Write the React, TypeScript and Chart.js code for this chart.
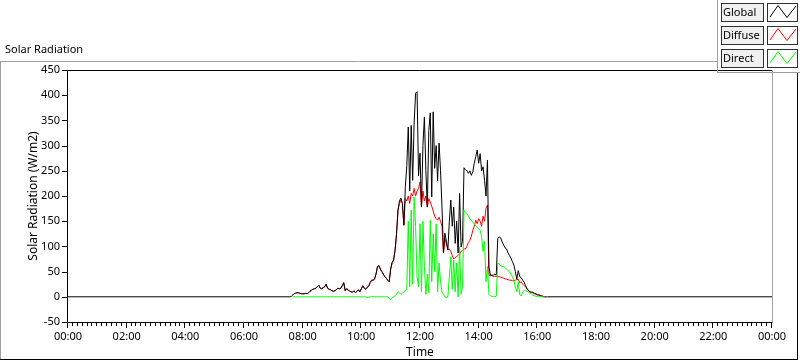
import React, { useEffect, useRef } from 'react';
import { Chart, registerables } from 'chart.js';

Chart.register(...registerables);

// Samples every 3 minutes starting at 07:36
const START_MINUTE = 456;
const STEP_MINUTES = 3;

const globalValues: (number | null)[] = [
  0, 3, 6, 7, 8, 8, 7, 6, 6, 6,
  7, 6, 8, 11, 13, 15, 16, 17, 20, 23,
  17, 16, 18, 20, 25, 17, 15, 14, 12, 11,
  12, 14, 17, 16, 17, 22, 28, 12, 16, 14,
  11, 10, 9, 12, 8, 11, 14, 10, 16, 22,
  17, 15, 19, 21, 28, 33, 33, 35, 45, 60,
  62, 55, 50, 45, 40, 37, 33, 30, 55, 68,
  73, 92, 125, 172, 190, 196, 185, 142, 218, 260,
  337, 210, 340, 231, 345, 404, 407, 240, 285, 178,
  300, 357, 250, 178, 330, 365, 198, 367, 255, 300,
  230, 305, 250, 178, 87, 126, 110, 93, 150, 192,
  140, 178, 106, 150, 87, 205, 99, 110, 256, 252,
  250, 245, 250, 241, 248, 265, 278, 291, 265, 284,
  250, 258, 231, 200, 271, 59, 43, 43, 43, 45,
  43, 115, 119, 117, 109, 103, 97, 95, 87, 82,
  77, 70, 63, 50, 35, 52, 40, 38, 33, 29,
  22, 16, 12, 10, 9, 9, 7, 6, 4, 4,
  3, 2, 1, 0, 0, 0,
];

const diffuseValues: (number | null)[] = [
  null, 3, 6, 7, 8, 8, 7, 6, 6, 6,
  7, 6, 8, 11, 13, 15, 16, 17, 20, 23,
  17, 16, 18, 20, 25, 17, 15, 14, 12, 11,
  12, 14, 17, 16, 17, 22, 28, 12, 16, 14,
  11, 10, 9, 12, 8, 11, 14, 10, 16, 22,
  17, 15, 19, 21, 28, 33, 33, 35, 45, 60,
  62, 55, 50, 45, 40, 37, 33, 30, 55, 68,
  73, 92, 125, 172, 185, 192, 185, 142, 195, 190,
  200, 185, 205, 200, 215, 200, 210, 215, 228, 178,
  210, 190, 200, 178, 195, 188, 180, 170, 160, 155,
  152, 158, 150, 140, 87, 115, 105, 93, 95, 90,
  82, 75, 78, 80, 82, 85, 90, 92, 95, 95,
  100, 108, 112, 120, 132, 140, 152, 145, 155, 150,
  140, 160, 150, 176, 182, 43, 42, 42, 40, 41,
  40, 40, 40, 39, 38, 37, 36, 35, 34, 33,
  33, 32, 32, 33, 34, 35, 28, 30, 25, 22,
  20, 16, 12, 10, 9, 8, 6, 5, 4, 3,
  2, 1, 0, 0, null, null,
];

const directValues: (number | null)[] = [
  null, 0, 0, 0, 0, 0, 0, 0, 0, 0,
  0, 0, 0, 0, 0, 0, 0, 0, 0, 0,
  0, 0, 0, 0, 0, 0, 0, 0, 0, 0,
  0, 0, 0, 0, 0, 0, 0, 0, 0, 0,
  0, 0, 0, 0, 0, 0, 0, 0, 0, 0,
  0, 0, -2, -1, 0, 0, 0, 0, 0, 0,
  0, 0, 0, 0, 0, 0, 0, -3, -6, -2,
  0, 2, 5, 10, 8, 5, 7, 10, 12, 15,
  150, 20, 172, 25, 198, 139, 40, 20, 145, 10,
  150, 60, 5, 45, 8, 152, 30, 125, 50, 145,
  10, 67, 30, 10, 5, 0, -2, 0, 40, 79,
  15, 73, 10, 67, 0, 99, 5, 20, 172, 168,
  165, 160, 155, 152, 148, 145, 140, 138, 135, 132,
  120, 90, 110, 30, 60, 5, 2, 1, 1, 0,
  1, 67, 65, 62, 60, 60, 58, 55, 52, 50,
  45, 40, 33, 20, 10, 30, 4, 2, 10, 12,
  12, 11, 9, 7, 5, 3, 2, 1, 1, 0,
  0, 0, 0, 0, null, null,
];

const seriesNames = ['Global', 'Diffuse', 'Direct'];
const seriesColors = ['#000000', '#ff0000', '#00ff00'];
// drawing order: lower number is painted on top
const seriesOrder = [2, 3, 1];

const X_MIN = 0;
const X_MAX = 1440;
const X_MAJOR = 120;
const X_MINOR = 10;
const Y_MIN = -50;
const Y_MAX = 450;
const Y_STEP = 50;

const FONT = '"Noto Sans", "DejaVu Sans", sans-serif';

function pad2(n: number) {
  return (n < 10 ? '0' : '') + n;
}
function fmtTime(m: number) {
  const h = Math.floor(m / 60) % 24;
  const mm = Math.round(m % 60);
  return pad2(h) + ':' + pad2(mm);
}

const decorPlugin = {
  id: 'decor',
  afterDraw(chart: any) {
    const ctx: CanvasRenderingContext2D = chart.ctx;
    const { left, right, top, bottom } = chart.chartArea;
    const xs = chart.scales.x;
    const ys = chart.scales.y;
    const line = (x1: number, y1: number, x2: number, y2: number) => {
      ctx.beginPath();
      ctx.moveTo(x1, y1);
      ctx.lineTo(x2, y2);
      ctx.stroke();
    };
    ctx.save();
    ctx.lineWidth = 1;

    // outer frame
    ctx.strokeStyle = '#a0a0a0';
    line(0, 61.5, 717, 61.5);
    line(0.5, 61, 0.5, 360);
    ctx.strokeStyle = '#000000';
    line(0, 359.5, 798, 359.5);
    line(797.5, 72, 797.5, 360);

    // plot borders
    ctx.strokeStyle = '#000000';
    line(left - 0.5, top + 0.5, right, top + 0.5);
    line(left - 0.5, top, left - 0.5, bottom + 0.5);
    line(left - 0.5, bottom + 0.5, right + 0.5, bottom + 0.5);
    ctx.strokeStyle = '#a0a0a0';
    line(right + 0.5, top, right + 0.5, bottom);

    // x ticks
    ctx.strokeStyle = '#000000';
    for (let m = X_MIN; m <= X_MAX; m += X_MINOR) {
      const x = Math.round(xs.getPixelForValue(m)) - 0.5;
      const len = m % X_MAJOR === 0 ? 5 : 3;
      line(x, bottom + 1, x, bottom + 1 + len);
    }
    // y ticks
    for (let v = Y_MIN; v <= Y_MAX; v += Y_STEP) {
      const y = Math.round(ys.getPixelForValue(v)) + 0.5;
      line(left - 6, y, left - 1, y);
    }

    // title
    ctx.fillStyle = '#000000';
    ctx.font = '11px ' + FONT;
    ctx.textAlign = 'left';
    ctx.textBaseline = 'middle';
    ctx.fillText('Solar Radiation', 5, 50);

    // legend panel
    ctx.strokeStyle = '#a0a0a0';
    line(717.5, 0, 717.5, 72.5);
    line(717, 72.5, 800, 72.5);
    const rowsY = [3, 26, 49];
    seriesNames.forEach((name, i) => {
      const y0 = rowsY[i];
      ctx.fillStyle = '#f0f0f0';
      ctx.fillRect(721, y0, 43, 19);
      ctx.strokeStyle = '#303030';
      ctx.strokeRect(721.5, y0 + 0.5, 42, 18);
      ctx.fillStyle = '#ffffff';
      ctx.fillRect(767, y0, 31, 19);
      ctx.strokeRect(767.5, y0 + 0.5, 30, 18);
      ctx.fillStyle = '#000000';
      ctx.font = '11px ' + FONT;
      ctx.textBaseline = 'middle';
      ctx.fillText(name, 723, y0 + 10);
      ctx.strokeStyle = seriesColors[i];
      ctx.beginPath();
      ctx.moveTo(770, y0 + 14);
      ctx.lineTo(778, y0 + 2.5);
      ctx.lineTo(787, y0 + 14.5);
      ctx.lineTo(796, y0 + 3);
      ctx.stroke();
    });
    ctx.restore();
  },
};

export default function App() {
  const ref = useRef<HTMLCanvasElement>(null);
  useEffect(() => {
    if (!ref.current) return;
    const times = globalValues.map((_, i) => START_MINUTE + i * STEP_MINUTES);
    const toPts = (arr: (number | null)[]) => arr.map((v, i) => ({ x: times[i], y: v }));
    const globalPts = [{ x: X_MIN, y: 0 }, ...toPts(globalValues), { x: X_MAX, y: 0 }];
    const allData = [globalPts, toPts(diffuseValues), toPts(directValues)];
    const chart = new Chart(ref.current, {
      type: 'line',
      data: {
        datasets: seriesNames.map((name, i) => ({
          label: name,
          data: allData[i] as any,
          borderColor: seriesColors[i],
          order: seriesOrder[i],
          borderWidth: 1,
          pointRadius: 0,
          tension: 0,
          fill: false,
          spanGaps: false,
        })),
      },
      options: {
        animation: false,
        responsive: false,
        devicePixelRatio: 1,
        layout: { padding: { top: 70, right: 28, bottom: 0, left: 0 } },
        plugins: { legend: { display: false }, tooltip: { enabled: false }, title: { display: false } },
        font: { family: FONT },
        scales: {
          x: {
            type: 'linear',
            min: X_MIN,
            max: X_MAX,
            grid: { display: false, drawTicks: false },
            border: { display: false },
            afterFit: (s: any) => {
              s.height = 39;
            },
            ticks: {
              stepSize: X_MAJOR,
              autoSkip: false,
              maxRotation: 0,
              padding: 8,
              color: '#000000',
              font: { size: 11, family: FONT },
              callback: (v: any) => fmtTime(Number(v)),
            },
            title: {
              display: true,
              text: 'Time',
              color: '#000000',
              font: { size: 12, family: FONT },
              padding: { top: 0, bottom: 1 },
            },
          },
          y: {
            type: 'linear',
            min: Y_MIN,
            max: Y_MAX,
            grid: { display: false, drawTicks: false },
            border: { display: false },
            afterFit: (s: any) => {
              s.width = 68;
            },
            ticks: {
              stepSize: Y_STEP,
              padding: 8,
              color: '#000000',
              font: { size: 11, family: FONT },
            },
            title: {
              display: true,
              text: 'Solar Radiation (W/m2)',
              color: '#000000',
              font: { size: 12, family: FONT },
              padding: { top: 26, bottom: 0 },
            },
          },
        },
      } as any,
      plugins: [decorPlugin],
    });
    return () => chart.destroy();
  }, []);
  return (
    <div style={{ position: 'absolute', left: 0, top: 0, width: 800, height: 361 }}>
      <canvas ref={ref} width={800} height={361} style={{ display: 'block' }} />
    </div>
  );
}
